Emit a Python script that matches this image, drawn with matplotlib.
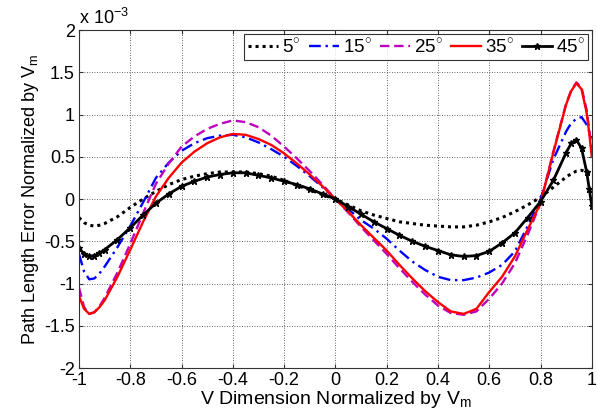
import matplotlib
matplotlib.use('Agg')
import matplotlib.pyplot as plt
import numpy as np
from matplotlib.ticker import FuncFormatter

plt.rcParams['font.family'] = ['Liberation Sans', 'DejaVu Sans']
plt.rcParams['axes.unicode_minus'] = False
plt.rcParams['mathtext.fontset'] = 'custom'
plt.rcParams['mathtext.rm'] = 'Liberation Sans'

# x positions (V dimension normalized by Vm)
v = [-1, -0.98, -0.96, -0.94, -0.92, -0.9, -0.85, -0.8, -0.75, -0.7, -0.65, -0.6,
     -0.55, -0.5, -0.45, -0.4, -0.35, -0.3, -0.25, -0.2, -0.15, -0.1, -0.05, 0,
     0.05, 0.1, 0.15, 0.2, 0.25, 0.3, 0.35, 0.4, 0.45, 0.5, 0.55, 0.6, 0.65, 0.7,
     0.75, 0.8, 0.85, 0.9, 0.92, 0.94, 0.96, 0.98, 0.99, 1.0]

# path length error, in units of 1e-3
err5 = [-0.22, -0.28, -0.31, -0.32, -0.31, -0.29, -0.21, -0.10, 0.0, 0.09, 0.17, 0.23,
        0.27, 0.30, 0.32, 0.32, 0.32, 0.30, 0.27, 0.22, 0.16, 0.11, 0.05, 0,
        -0.07, -0.14, -0.19, -0.23, -0.27, -0.29, -0.31, -0.32, -0.33, -0.33, -0.31, -0.27, -0.22, -0.15,
        -0.07, 0.02, 0.14, 0.26, 0.30, 0.33, 0.34, 0.32, 0.30, 0.28]
err15 = [-0.65, -0.86, -0.95, -0.94, -0.88, -0.80, -0.57, -0.32, -0.04, 0.25, 0.43, 0.57,
         0.66, 0.72, 0.75, 0.76, 0.73, 0.67, 0.59, 0.50, 0.39, 0.27, 0.14, 0,
         -0.12, -0.25, -0.35, -0.47, -0.61, -0.74, -0.84, -0.92, -0.96, -0.96, -0.93, -0.87, -0.78, -0.62,
         -0.32, 0.0, 0.47, 0.80, 0.90, 0.95, 0.97, 0.88, 0.80, 0.72]
err25 = [-1.05, -1.28, -1.36, -1.34, -1.27, -1.17, -0.87, -0.53, -0.17, 0.18, 0.42, 0.62,
         0.74, 0.83, 0.89, 0.93, 0.91, 0.85, 0.75, 0.62, 0.48, 0.33, 0.17, 0,
         -0.16, -0.33, -0.49, -0.65, -0.82, -0.98, -1.13, -1.26, -1.35, -1.37, -1.33, -1.18, -1.00, -0.76,
         -0.42, -0.05, 0.56, 1.13, 1.29, 1.38, 1.32, 1.05, 0.82, 0.55]
err35 = [-1.15, -1.30, -1.36, -1.34, -1.28, -1.20, -0.92, -0.60, -0.27, 0.03, 0.25, 0.43,
         0.56, 0.66, 0.73, 0.77, 0.76, 0.71, 0.64, 0.54, 0.42, 0.29, 0.15, 0,
         -0.15, -0.31, -0.46, -0.61, -0.78, -0.94, -1.09, -1.22, -1.33, -1.36, -1.30, -1.10, -0.92, -0.68,
         -0.36, -0.05, 0.55, 1.12, 1.28, 1.37, 1.30, 1.02, 0.78, 0.50]
err45 = [-0.58, -0.65, -0.68, -0.67, -0.64, -0.60, -0.48, -0.34, -0.19, -0.05, 0.06, 0.15,
         0.21, 0.26, 0.29, 0.31, 0.31, 0.28, 0.25, 0.21, 0.17, 0.12, 0.06, 0,
         -0.09, -0.18, -0.27, -0.35, -0.43, -0.50, -0.56, -0.61, -0.66, -0.68, -0.67, -0.62, -0.52, -0.40,
         -0.22, -0.03, 0.22, 0.55, 0.66, 0.70, 0.60, 0.32, 0.12, -0.08]

labels = ['5$^{\\circ}$', '15$^{\\circ}$', '25$^{\\circ}$', '35$^{\\circ}$', '45$^{\\circ}$']
xticks = [-1, -0.8, -0.6, -0.4, -0.2, 0, 0.2, 0.4, 0.6, 0.8, 1]
yticks = [-2, -1.5, -1, -0.5, 0, 0.5, 1, 1.5, 2]

fig = plt.figure(figsize=(5.97, 4.17), dpi=100)
ax = fig.add_axes([0.1323, 0.1175, 0.859, 0.8105])

scale = 1e-3
ax.plot(v, np.array(err5) * scale, color='k', linestyle=(0, (1, 1.3)), linewidth=2.2, label=labels[0])
ax.plot(v, np.array(err15) * scale, color='#0000ff', linestyle=(0, (5, 2, 1, 2)), linewidth=1.7, label=labels[1])
ax.plot(v, np.array(err25) * scale, color='#bf00bf', linestyle=(0, (4, 2)), linewidth=1.7, label=labels[2])
ax.plot(v, np.array(err35) * scale, color='#ff0000', linestyle='-', linewidth=1.7, label=labels[3])
ax.plot(v, np.array(err45) * scale, color='k', linestyle='-', linewidth=2.0, marker='*',
        markersize=5, label=labels[4])

ax.set_xlim(-1, 1)
ax.set_ylim(-2e-3, 2e-3)
ax.set_xticks(xticks)
ax.set_yticks(np.array(yticks) * scale)
ax.xaxis.set_major_formatter(FuncFormatter(lambda val, pos: '%g' % round(val, 2)))
ax.yaxis.set_major_formatter(FuncFormatter(lambda val, pos: '%g' % round(val / scale, 2)))
ax.tick_params(direction='in', top=True, right=True, labelsize=13, length=3, pad=3, color='#333333')
ax.grid(True, color='#333333', linestyle=(0, (1, 2)), linewidth=0.6)
for s in ax.spines.values():
    s.set_color('#333333')
    s.set_linewidth(0.8)

ax.text(0.0, 1.005, 'x 10$^{-3}$', transform=ax.transAxes, fontsize=13, ha='left', va='bottom')
ax.set_xlabel('V Dimension Normalized by V$_\\mathregular{m}$', fontsize=14, labelpad=0)
ax.set_ylabel('Path Length Error Normalized by V$_\\mathregular{m}$', fontsize=13, labelpad=2)

leg = ax.legend(loc='upper right', ncol=5, fontsize=13.5, frameon=True, fancybox=False,
                edgecolor='k', borderaxespad=0.2, handlelength=1.6, handletextpad=0.2,
                columnspacing=0.45, borderpad=0.2)
leg.get_frame().set_linewidth(0.8)

fig.savefig('out.png', dpi=100)
